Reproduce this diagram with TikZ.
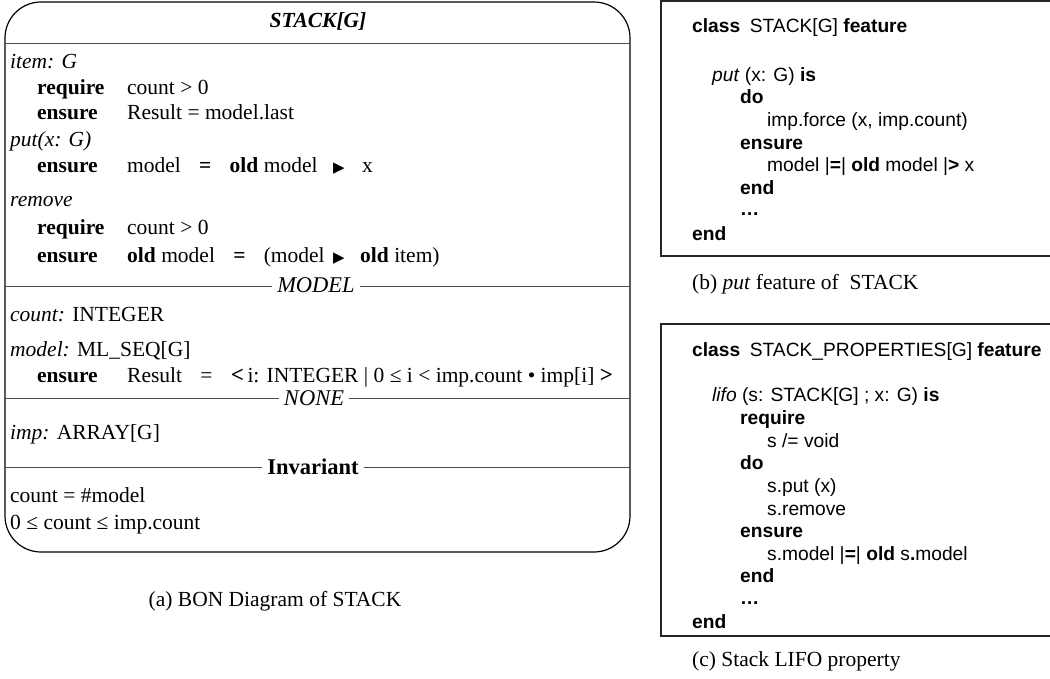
\documentclass[tikz,border=0pt]{standalone}
\usepackage{fontspec}
\setmainfont{Liberation Serif}
\setsansfont{Liberation Sans}
\newfontfamily\symfont{DejaVu Sans}
\newcommand\ptr{{\symfont\fontsize{15}{15}\selectfont ▶}}
\newcommand\bigang[1]{{\bfseries\fontsize{23}{23}\selectfont #1}}
\newcommand\kw[1]{\makebox[90pt][l]{\bfseries #1}}
\newcommand\eqgap{\hspace{0.85em}}
\begin{document}
\begin{tikzpicture}[x=1pt,y=-1pt,
  bon/.style={font=\fontsize{21.5}{24}\selectfont, inner sep=0pt, anchor=base west},
  code/.style={font=\sffamily\fontsize{19.2}{22}\selectfont, inner sep=0pt, anchor=base west},
  capt/.style={font=\fontsize{21.5}{24}\selectfont, inner sep=0pt},
  seplab/.style={font=\fontsize{22.5}{24}\selectfont, inner xsep=5pt, inner ysep=0pt, anchor=base},
  frame/.style={line width=1.2pt, draw=black},
  boxframe/.style={line width=1.5pt, draw=black!85},
  rule/.style={line width=0.9pt, draw=black!70}
]
\useasboundingbox (0,0) rectangle (1050,679);

% ---------------- (a) BON diagram ----------------
\draw[frame, rounded corners=36pt] (5,2) rectangle (630,552);
\node[capt, anchor=base] (title) at (318,28) {\bfseries\itshape STACK[G]};
\coordinate (hL) at (5,43); \coordinate (hR) at (630,43);
\draw[rule] (hL) -- (hR);

\node[bon] (a1) at (10,69) {\itshape item: G};
\node[bon] (a2) at (37,95) {\kw{require}count > 0};
\node[bon] (a3) at (37,120) {\kw{ensure}Result = model.last};
\node[bon] (a4) at (10,147) {\itshape put(x: G)};
\node[bon] (a5) at (37,173) {\kw{ensure}model\eqgap\textbf{=}\eqgap\textbf{old} model};
\node[bon, anchor=base] (a5p) at (339,173) {\ptr};
\node[bon] (a5x) at (362,173) {x};
\node[bon] (a6) at (10,207) {\itshape remove};
\node[bon] (a7) at (37,235) {\kw{require}count > 0};
\node[bon] (a8) at (37,262) {\kw{ensure}\textbf{old} model\eqgap\textbf{=}\eqgap(model};
\node[bon, anchor=base] (a8p) at (339,262) {\ptr};
\node[bon] (a8x) at (360,262) {\textbf{old} item)};

\node[seplab] (lmodel) at (316,293) {\itshape MODEL};
\coordinate (mL) at (5,286); \coordinate (mR) at (630,286);
\draw[rule] (mL) -- (mL -| lmodel.west);
\draw[rule] (mR -| lmodel.east) -- (mR);

\node[bon] (a9) at (10,321) {\textit{count:} INTEGER};
\node[bon] (a10) at (10,356) {\textit{model:} ML\_SEQ[G]};
\node[bon] (a11) at (37,382) {\kw{ensure}Result\eqgap=\eqgap\bigang{<}\,i: INTEGER | 0 ≤ i < imp.count • imp[i] \bigang{>}};

\node[seplab] (lnone) at (314,405) {\itshape NONE};
\coordinate (nL) at (5,398); \coordinate (nR) at (630,398);
\draw[rule] (nL) -- (nL -| lnone.west);
\draw[rule] (nR -| lnone.east) -- (nR);

\node[bon] (a12) at (10,439) {\textit{imp:} ARRAY[G]};

\node[seplab] (linv) at (313,474) {\bfseries Invariant};
\coordinate (iL) at (5,467); \coordinate (iR) at (630,467);
\draw[rule] (iL) -- (iL -| linv.west);
\draw[rule] (iR -| linv.east) -- (iR);

\node[bon] (a13) at (10,502) {count = \#model};
\node[bon] (a14) at (10,529) {0 ≤ count ≤ imp.count};

\node[capt, anchor=base] (capa) at (275,606) {(a) BON Diagram of STACK};

% ---------------- (b) put feature ----------------
\coordinate (bTR) at (1052,1); \coordinate (bTL) at (661,1);
\coordinate (bBL) at (661,256); \coordinate (bBR) at (1052,256);
\draw[boxframe] (bTR) -- (bTL) -- (bBL) -- (bBR);

\node[code] (b1) at (692,33) {\textbf{class}\hspace{0.5em}STACK[G] \textbf{feature}};
\node[code] (b2) at (712,82) {\textit{put} (x: G) \textbf{is}};
\node[code] (b3) at (740,104) {\textbf{do}};
\node[code] (b4) at (767,127) {imp.force (x, imp.count)};
\node[code] (b5) at (740,150) {\textbf{ensure}};
\node[code] (b6) at (767,172) {model |\textbf{=}| \textbf{old} model |\textbf{>} x};
\node[code] (b7) at (740,195) {\textbf{end}};
\node[code] (b8) at (740,216) {\textbf{…}};
\node[code] (b9) at (692,241) {\textbf{end}};

\node[capt, anchor=base west] (capb) at (692,290) {(b) \textit{put} feature of\hspace{0.5em}STACK};

% ---------------- (c) LIFO property ----------------
\coordinate (cTR) at (1052,324); \coordinate (cTL) at (661,324);
\coordinate (cBL) at (661,636); \coordinate (cBR) at (1052,636);
\draw[boxframe] (cTR) -- (cTL) -- (cBL) -- (cBR);

\node[code] (c1) at (692,356) {\textbf{class}\hspace{0.5em}STACK\_PROPERTIES[G] \textbf{feature}};
\node[code] (c2) at (712,401) {\textit{lifo} (s: STACK[G] ; x: G) \textbf{is}};
\node[code] (c3) at (740,424) {\textbf{require}};
\node[code] (c4) at (767,447) {s /= void};
\node[code] (c5) at (740,469) {\textbf{do}};
\node[code] (c6) at (767,492) {s.put (x)};
\node[code] (c7) at (767,515) {s.remove};
\node[code] (c8) at (740,537) {\textbf{ensure}};
\node[code] (c9) at (767,560) {s.model |\textbf{=}| \textbf{old} s\textbf{.}model};
\node[code] (c10) at (740,582) {\textbf{end}};
\node[code] (c11) at (740,604) {\textbf{…}};
\node[code] (c12) at (692,628) {\textbf{end}};

\node[capt, anchor=base west] (capc) at (692,666) {(c) Stack LIFO property};
\end{tikzpicture}
\end{document}
